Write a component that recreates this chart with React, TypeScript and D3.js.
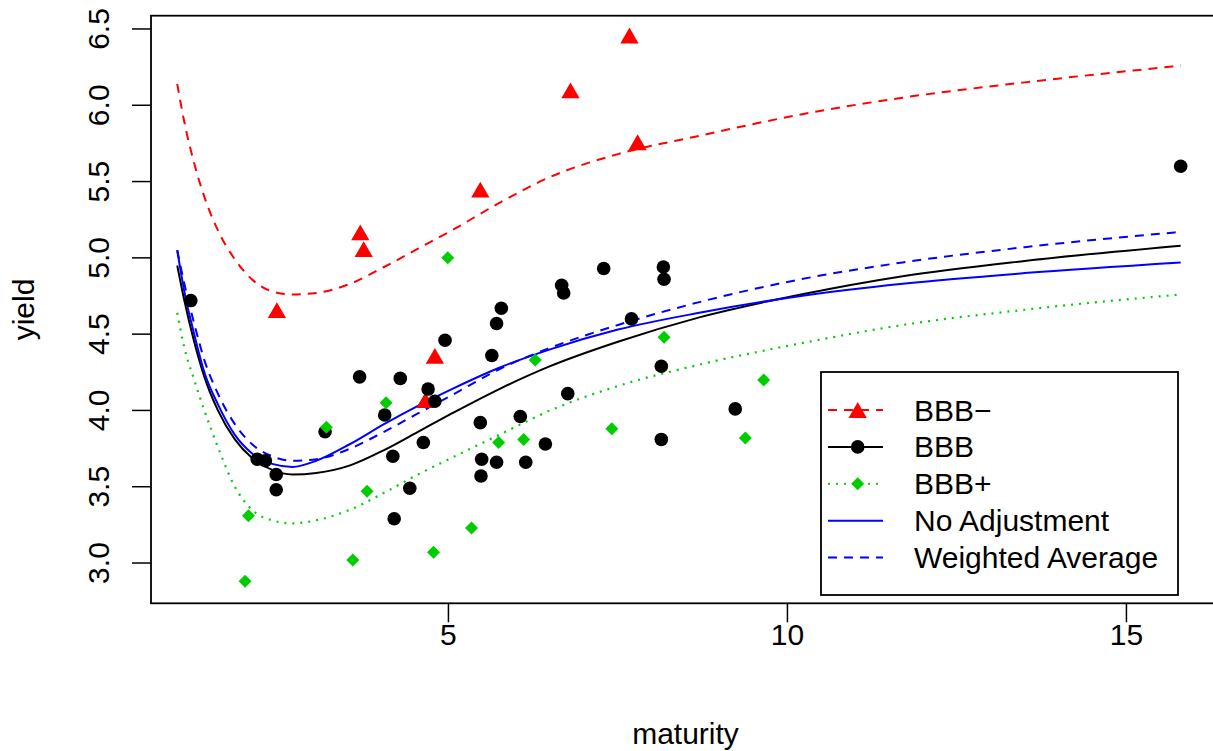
import React from "react";
import * as d3 from "d3";

// BBB- bonds (triangles)
const bbbMinusMaturity = [2.47, 3.7, 3.75, 4.66, 4.8, 5.47, 6.8, 7.67, 7.79];
const bbbMinusYield = [4.64, 5.15, 5.04, 4.05, 4.34, 5.43, 6.08, 6.44, 5.74];

// BBB bonds (dots)
const bbbMaturity = [
  1.2, 2.18, 2.3, 2.46, 2.46, 3.18, 3.69, 4.06, 4.18, 4.2, 4.29, 4.43, 4.63,
  4.7, 4.8, 4.95, 5.47, 5.49, 5.48, 5.64, 5.71, 5.78, 5.71, 6.06, 6.14, 6.43,
  6.67, 6.7, 6.76, 7.29, 7.7, 8.14, 8.14, 8.17, 8.18, 9.23, 15.8,
];
const bbbYield = [
  4.72, 3.68, 3.67, 3.58, 3.48, 3.86, 4.22, 3.97, 3.7, 3.29, 4.21, 3.49, 3.79,
  4.14, 4.06, 4.46, 3.92, 3.68, 3.57, 4.36, 4.57, 4.67, 3.66, 3.96, 3.66, 3.78,
  4.82, 4.77, 4.11, 4.93, 4.6, 4.29, 3.81, 4.94, 4.86, 4.01, 5.6,
];

// BBB+ bonds (diamonds)
const bbbPlusMaturity = [
  2.0, 2.05, 3.2, 3.59, 3.8, 4.08, 4.78, 4.99, 5.34, 5.74, 6.11, 6.28, 7.41,
  8.18, 9.38, 9.65,
];
const bbbPlusYield = [
  2.88, 3.31, 3.89, 3.02, 3.47, 4.05, 3.07, 5.0, 3.23, 3.79, 3.81, 4.33, 3.88,
  4.48, 3.82, 4.2,
];

const curveMaturity = [
  1.0, 1.1, 1.25, 1.4, 1.6, 1.85, 2.1, 2.4, 2.7, 3.05, 3.55, 4.05, 4.55, 5.05,
  5.75, 6.5, 7.5, 8.7, 10.2, 11.7, 13.5, 15.8,
];
const curveBBBMinus = [
  6.14, 5.9, 5.62, 5.4, 5.18, 4.99, 4.86, 4.78, 4.76, 4.77, 4.83, 4.94, 5.06,
  5.18, 5.36, 5.53, 5.68, 5.8, 5.94, 6.05, 6.15, 6.26,
];
const curveBBB = [
  4.95, 4.73, 4.45, 4.22, 4.0, 3.81, 3.69, 3.61, 3.58, 3.59, 3.64, 3.74, 3.86,
  3.98, 4.14, 4.29, 4.45, 4.61, 4.76, 4.88, 4.98, 5.08,
];
const curveBBBPlus = [
  4.64, 4.42, 4.2, 4.0, 3.76, 3.5, 3.35, 3.28, 3.26, 3.28, 3.35, 3.46, 3.58,
  3.69, 3.84, 4.0, 4.16, 4.3, 4.44, 4.56, 4.66, 4.76,
];
const curveNoAdj = [
  5.05, 4.79, 4.5, 4.25, 4.04, 3.84, 3.72, 3.65, 3.63, 3.67, 3.78, 3.91, 4.03,
  4.14, 4.28, 4.4, 4.53, 4.64, 4.75, 4.83, 4.9, 4.97,
];
const curveWeighted = [
  5.05, 4.84, 4.57, 4.33, 4.11, 3.91, 3.78, 3.7, 3.67, 3.68, 3.75, 3.86, 3.98,
  4.1, 4.27, 4.41, 4.56, 4.71, 4.86, 4.97, 5.07, 5.17,
];

const xTicks = [5, 10, 15];
const yTicks = [3, 3.5, 4, 4.5, 5, 5.5, 6, 6.5];

const legendLabels = ["BBB\u2212", "BBB", "BBB+", "No Adjustment", "Weighted Average"];

const W = 1213;
const H = 751;
const font = "'Liberation Sans', Arial, Helvetica, sans-serif";
const RED = "#ff0000";
const GREEN = "#00cd00";
const BLUE = "#0000ff";

const x = d3.scaleLinear().domain([0.613, 16.38]).range([151, 1220]);
const y = d3.scaleLinear().domain([2.736, 6.587]).range([603.3, 15.7]);

const line = d3
  .line<number>()
  .x((_, i) => x(curveMaturity[i]))
  .y((d) => y(d))
  .curve(d3.curveMonotoneX);

const triPath = (cx: number, cy: number, s = 9.15) => {
  const r = (s / 1.3468) * 1.5551;
  return `M${cx},${cy - r}L${cx + s},${cy + r / 2}L${cx - s},${cy + r / 2}Z`;
};
const diamondPath = (cx: number, cy: number, s = 6.5) =>
  `M${cx},${cy - s}L${cx + s},${cy}L${cx},${cy + s}L${cx - s},${cy}Z`;

export default function App() {
  const [x0, x1] = x.range();
  const [y0, y1] = y.range();

  const legX = 821;
  const legY = 372;
  const legW = 357;
  const legH = 223;
  const rowY = (i: number) => 410 + i * 36.9;

  return (
    <svg
      width={W}
      height={H}
      style={{ position: "absolute", left: 0, top: 0, background: "#fff" }}
      fontFamily={font}
    >
      <rect x={0} y={0} width={W} height={H} fill="#fff" />

      {/* fitted curves */}
      <path d={line(curveBBBMinus) ?? ""} fill="none" stroke={RED} strokeWidth={2} strokeDasharray="9,7" />
      <path d={line(curveBBB) ?? ""} fill="none" stroke="#000" strokeWidth={2} />
      <path d={line(curveBBBPlus) ?? ""} fill="none" stroke={GREEN} strokeWidth={2.2} strokeDasharray="2,6" />
      <path d={line(curveNoAdj) ?? ""} fill="none" stroke={BLUE} strokeWidth={2} />
      <path d={line(curveWeighted) ?? ""} fill="none" stroke={BLUE} strokeWidth={2} strokeDasharray="9,7" />

      {/* points */}
      {bbbMinusMaturity.map((m, i) => (
        <path key={"t" + i} d={triPath(x(m), y(bbbMinusYield[i]))} fill={RED} />
      ))}
      {bbbMaturity.map((m, i) => (
        <circle key={"c" + i} cx={x(m)} cy={y(bbbYield[i])} r={6.8} fill="#000" />
      ))}
      {bbbPlusMaturity.map((m, i) => (
        <path key={"d" + i} d={diamondPath(x(m), y(bbbPlusYield[i]))} fill={GREEN} />
      ))}

      {/* plot box */}
      <rect x={x0} y={y1} width={x1 - x0} height={y0 - y1} fill="none" stroke="#000" strokeWidth={1.8} />

      {/* x axis */}
      {xTicks.map((t) => (
        <g key={"xt" + t}>
          <line x1={x(t)} x2={x(t)} y1={y0} y2={y0 + 19} stroke="#000" strokeWidth={1.5} />
          <text x={x(t)} y={645} fontSize={30} textAnchor="middle">
            {t}
          </text>
        </g>
      ))}
      <text x={(151 + 1220) / 2} y={744} fontSize={30} textAnchor="middle">
        maturity
      </text>

      {/* y axis */}
      {yTicks.map((t) => (
        <g key={"yt" + t}>
          <line x1={x0 - 19} x2={x0} y1={y(t)} y2={y(t)} stroke="#000" strokeWidth={1.5} />
          <text
            transform={`translate(109,${y(t)}) rotate(-90)`}
            fontSize={30}
            textAnchor="middle"
          >
            {t.toFixed(1)}
          </text>
        </g>
      ))}
      <text
        transform={`translate(34,${(y0 + y1) / 2}) rotate(-90)`}
        fontSize={30}
        textAnchor="middle"
      >
        yield
      </text>

      {/* legend */}
      <rect x={legX} y={legY} width={legW} height={legH} fill="#fff" stroke="#000" strokeWidth={1.8} />
      {legendLabels.map((lab, i) => {
        const cy = rowY(i);
        const lx1 = 828;
        const lx2 = 883;
        const mx = 857.7;
        const stroke = i === 0 ? RED : i === 1 ? "#000" : i === 2 ? GREEN : BLUE;
        const dash = i === 0 || i === 4 ? "9,7" : i === 2 ? "2,6" : undefined;
        return (
          <g key={lab}>
            <line x1={lx1} x2={lx2} y1={cy} y2={cy} stroke={stroke} strokeWidth={2} strokeDasharray={dash} />
            {i === 0 && <path d={triPath(mx, cy + 2.6)} fill={RED} />}
            {i === 1 && <circle cx={mx} cy={cy} r={6.8} fill="#000" />}
            {i === 2 && <path d={diamondPath(mx, cy)} fill={GREEN} />}
            <text x={914} y={cy + 10.5} fontSize={30}>
              {lab}
            </text>
          </g>
        );
      })}
    </svg>
  );
}
